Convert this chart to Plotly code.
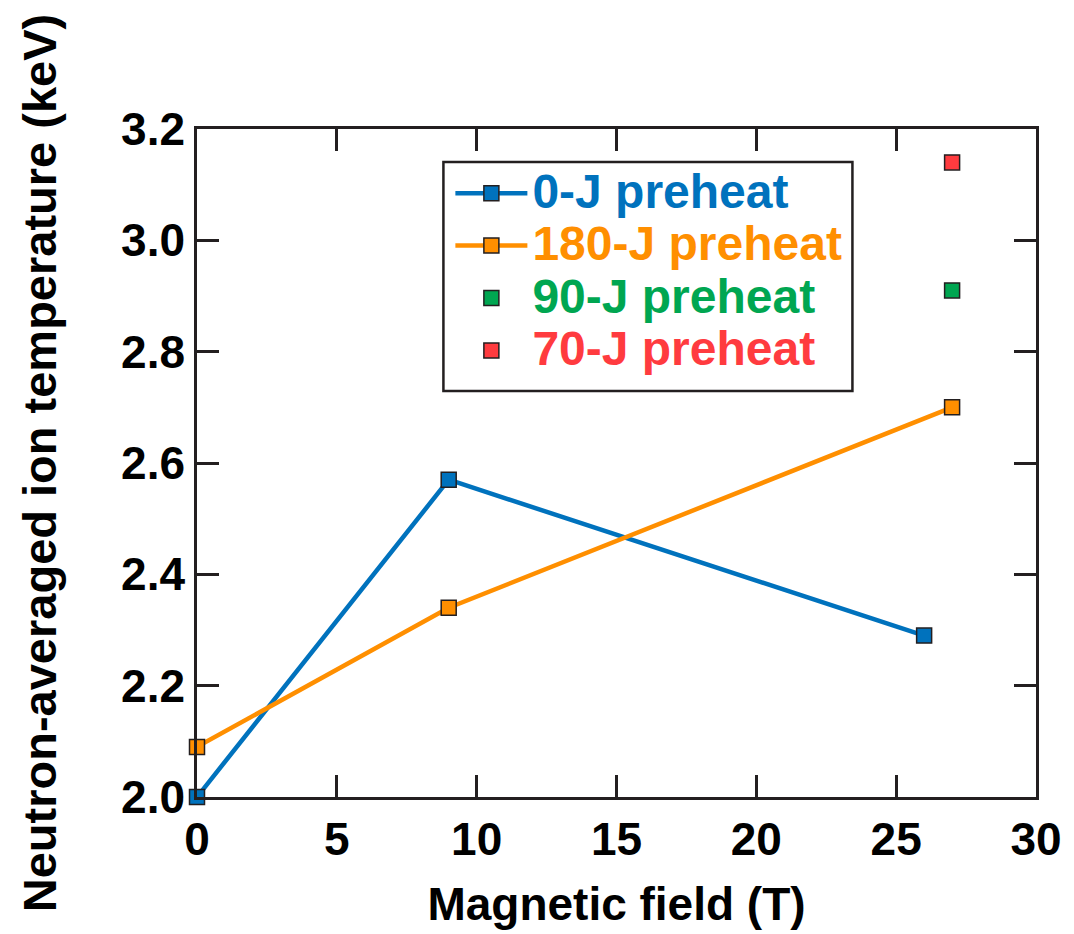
import plotly.graph_objects as go

# Data
field_0J = [0, 9, 26]
temp_0J = [2.00, 2.57, 2.29]
field_180J = [0, 9, 27]
temp_180J = [2.09, 2.34, 2.70]
field_90J = [27]
temp_90J = [2.91]
field_70J = [27]
temp_70J = [3.14]

x_ticks = [0, 5, 10, 15, 20, 25, 30]
y_ticks = [2.0, 2.2, 2.4, 2.6, 2.8, 3.0, 3.2]
y_ticklabels = ["2.0", "2.2", "2.4", "2.6", "2.8", "3.0", "3.2"]

BLUE = "#0072BD"
ORANGE = "#FF8F00"
GREEN = "#00A651"
RED = "#FF3B3F"
INK = "#231F20"
FONT = "Liberation Sans"

def name(label, color):
    return f'<span style="color:{color};font-size:48px">{label}</span>'

fig = go.Figure()
fig.add_trace(go.Scatter(
    x=field_0J, y=temp_0J, mode="lines+markers", name=name("0-J preheat", BLUE),
    line=dict(color=BLUE, width=4.5),
    marker=dict(symbol="square", size=15, color=BLUE, line=dict(color=INK, width=1.5)),
    cliponaxis=False,
))
fig.add_trace(go.Scatter(
    x=field_180J, y=temp_180J, mode="lines+markers", name=name("180-J preheat", ORANGE),
    line=dict(color=ORANGE, width=4.5),
    marker=dict(symbol="square", size=15, color=ORANGE, line=dict(color=INK, width=1.5)),
    cliponaxis=False,
))
fig.add_trace(go.Scatter(
    x=field_90J, y=temp_90J, mode="markers", name=name("90-J preheat", GREEN),
    marker=dict(symbol="square", size=15, color=GREEN, line=dict(color=INK, width=1.5)),
    cliponaxis=False,
))
fig.add_trace(go.Scatter(
    x=field_70J, y=temp_70J, mode="markers", name=name("70-J preheat", RED),
    marker=dict(symbol="square", size=15, color=RED, line=dict(color=INK, width=1.5)),
    cliponaxis=False,
))

axis_common = dict(
    showgrid=False, zeroline=False, showline=True, linecolor=INK, linewidth=2.5,
    mirror="ticks", ticks="inside", ticklen=22, tickwidth=2.5, tickcolor=INK,
    tickfont=dict(family=FONT, size=46, color="black", weight="bold"),
)

# legend frame (paper coordinates)
fig.add_shape(type="rect", xref="paper", yref="paper",
              x0=0.2937, x1=0.7812, y0=0.6078, y1=0.9506,
              line=dict(color=INK, width=2.5), fillcolor="white", layer="below")

fig.update_layout(
    width=1074, height=934,
    margin=dict(l=197, r=36, t=129, b=137),
    paper_bgcolor="white", plot_bgcolor="white",
    font=dict(family=FONT, size=46, color="black", weight="bold"),
    xaxis=dict(
        range=[0, 30], tickvals=x_ticks,
        title=dict(text="Magnetic field (T)", font=dict(family=FONT, size=46, weight="bold"), standoff=24),
        **axis_common,
    ),
    yaxis=dict(
        range=[2.0, 3.2], tickvals=y_ticks, ticktext=y_ticklabels,
        title=dict(text="Neutron-averaged ion temperature (keV)", font=dict(family=FONT, size=47, weight="bold"), standoff=50),
        **axis_common,
    ),
    legend=dict(
        x=0.3020, y=0.9506, xanchor="left", yanchor="top",
        bgcolor="rgba(0,0,0,0)", borderwidth=0,
        font=dict(family=FONT, size=38, weight="bold"),
        itemwidth=72, tracegroupgap=0,
    ),
    showlegend=True,
)

fig.write_html("out.html")
